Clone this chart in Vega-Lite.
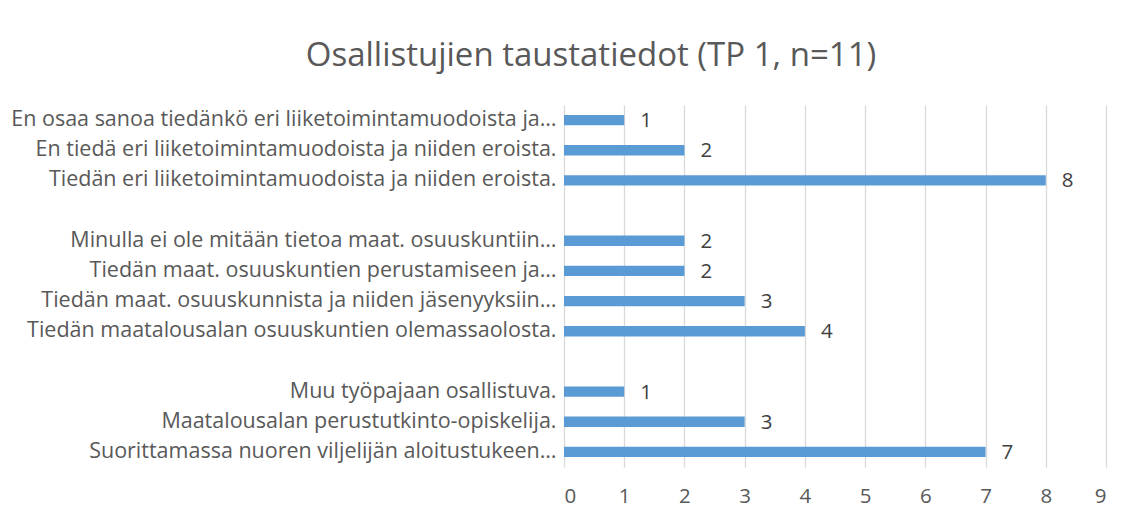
{
  "$schema": "https://vega.github.io/schema/vega-lite/v6.json",
  "width": 542,
  "height": 362,
  "autosize": {"type": "none"},
  "padding": {"left": 564, "top": 105, "right": 35, "bottom": 57},
  "background": "white",
  "title": {
    "text": "Osallistujien taustatiedot (TP 1, n=11)",
    "font": "Open Sans",
    "fontSize": 33,
    "fontWeight": "normal",
    "color": "#595959",
    "anchor": "middle",
    "dx": -244,
    "offset": 32
  },
  "data": {
    "values": [
      {"label": "En osaa sanoa tiedänkö eri liiketoimintamuodoista ja…", "value": 1},
      {"label": "En tiedä eri liiketoimintamuodoista ja niiden eroista.", "value": 2},
      {"label": "Tiedän eri liiketoimintamuodoista ja niiden eroista.", "value": 8},
      {"label": " ", "value": null},
      {"label": "Minulla ei ole mitään tietoa maat. osuuskuntiin…", "value": 2},
      {"label": "Tiedän maat. osuuskuntien perustamiseen ja…", "value": 2},
      {"label": "Tiedän maat. osuuskunnista ja niiden jäsenyyksiin…", "value": 3},
      {"label": "Tiedän maatalousalan osuuskuntien olemassaolosta.", "value": 4},
      {"label": "  ", "value": null},
      {"label": "Muu työpajaan osallistuva.", "value": 1},
      {"label": "Maatalousalan perustutkinto-opiskelija.", "value": 3},
      {"label": "Suorittamassa nuoren viljelijän aloitustukeen…", "value": 7}
    ]
  },
  "encoding": {
    "y": {
      "field": "label",
      "type": "nominal",
      "sort": null,
      "scale": {
        "domain": [
          "En osaa sanoa tiedänkö eri liiketoimintamuodoista ja…",
          "En tiedä eri liiketoimintamuodoista ja niiden eroista.",
          "Tiedän eri liiketoimintamuodoista ja niiden eroista.",
          " ",
          "Minulla ei ole mitään tietoa maat. osuuskuntiin…",
          "Tiedän maat. osuuskuntien perustamiseen ja…",
          "Tiedän maat. osuuskunnista ja niiden jäsenyyksiin…",
          "Tiedän maatalousalan osuuskuntien olemassaolosta.",
          "  ",
          "Muu työpajaan osallistuva.",
          "Maatalousalan perustutkinto-opiskelija.",
          "Suorittamassa nuoren viljelijän aloitustukeen…"
        ],
        "paddingInner": 0.66,
        "paddingOuter": 0.33
      },
      "axis": {
        "title": null,
        "domain": false,
        "ticks": false,
        "labelPadding": 8,
        "labelFont": "Open Sans",
        "labelFontSize": 21.5,
        "labelColor": "#595959",
        "labelLimit": 600
      }
    },
    "x": {
      "field": "value",
      "type": "quantitative",
      "scale": {"domain": [0, 9], "nice": false},
      "axis": {
        "title": null,
        "values": [0, 1, 2, 3, 4, 5, 6, 7, 8, 9],
        "domain": false,
        "ticks": false,
        "grid": true,
        "gridColor": "#d9d9d9",
        "gridWidth": 1.3,
        "labelPadding": 19,
        "labelFont": "Open Sans",
        "labelFontSize": 20.5,
        "labelColor": "#595959"
      }
    }
  },
  "layer": [
    {"mark": {"type": "bar", "color": "#5b9bd5"}},
    {
      "transform": [{"filter": "datum.value != null"}],
      "mark": {"type": "text", "align": "left", "dx": 16, "baseline": "middle", "dy": 1, "font": "Open Sans", "fontSize": 20.5, "color": "#404040"},
      "encoding": {"text": {"field": "value", "type": "quantitative"}}
    }
  ],
  "config": {"view": {"stroke": null}}
}
